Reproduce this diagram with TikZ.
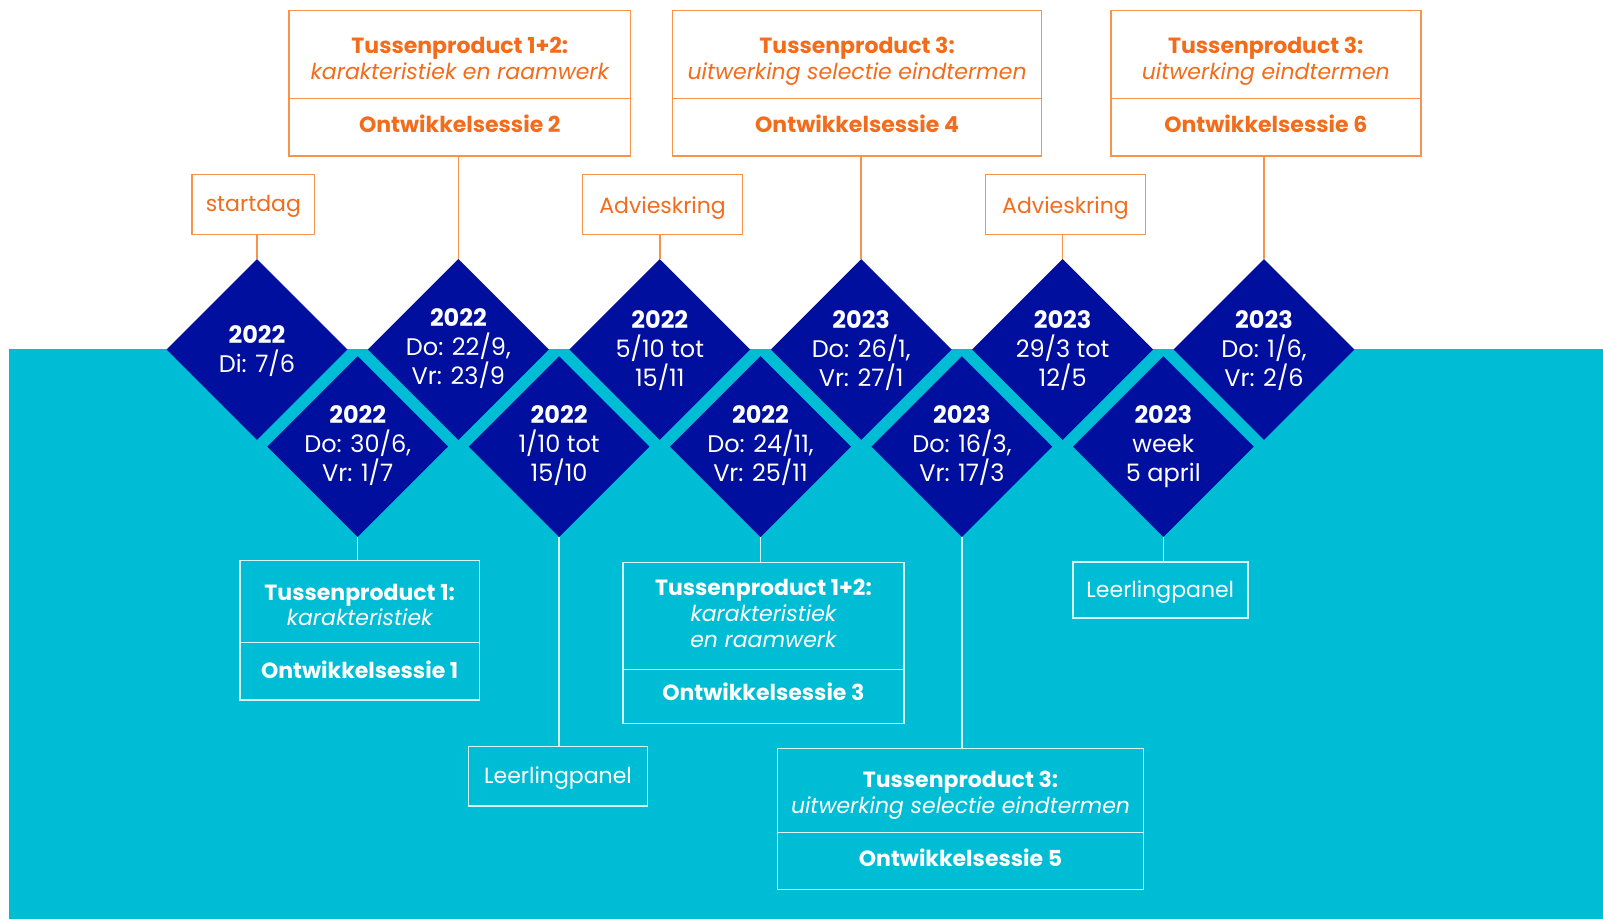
\documentclass[tikz,border=0pt]{standalone}
\usepackage{fontspec}
\setmainfont{Poppins}
\usetikzlibrary{shapes.geometric}
\definecolor{navy}{RGB}{0,15,157}
\definecolor{cyanbg}{RGB}{0,189,214}
\definecolor{otxt}{RGB}{243,108,28}
\definecolor{oline}{RGB}{246,148,78}
\definecolor{wline}{RGB}{215,244,249}
\begin{document}
\begin{tikzpicture}[x=1pt,y=-1pt,
  dia/.style={diamond, fill=navy, inner sep=0pt, minimum width=181pt, minimum height=181pt},
  dbold/.style={text=white, anchor=base, inner sep=0pt, font=\fontsize{24}{29}\selectfont\bfseries},
  dreg/.style={text=white, anchor=base, inner sep=0pt, font=\fontsize{24}{29}\selectfont},
  obox/.style={draw=oline, line width=1.5pt, rectangle, inner sep=0pt},
  wbox/.style={draw=wline, line width=1.5pt, rectangle, inner sep=0pt},
  obold/.style={text=otxt, anchor=base, inner sep=0pt, font=\fontsize{22}{26}\selectfont\bfseries},
  oreg/.style={text=otxt, anchor=base, inner sep=0pt, font=\fontsize{22}{26}\selectfont},
  oital/.style={text=otxt, anchor=base, inner sep=0pt, font=\fontsize{22}{26}\selectfont\itshape},
  wbold/.style={text=white, anchor=base, inner sep=0pt, font=\fontsize{22}{26}\selectfont\bfseries},
  wreg/.style={text=white, anchor=base, inner sep=0pt, font=\fontsize{22}{26}\selectfont},
  wital/.style={text=white, anchor=base, inner sep=0pt, font=\fontsize{22}{26}\selectfont\itshape},
  oconn/.style={draw=oline, line width=1.5pt},
  wconn/.style={draw=wline, line width=1.5pt}]
\useasboundingbox (0,0) rectangle (1603,919);
\fill[white] (0,0) rectangle (1603,919);
\fill[cyanbg] (9,349.4) rectangle (1603,919);

% upper diamonds
\node[dia] (u1) at (257,349.5) {};
\node[dbold] (u1a) at (257,343.3) {2022};
\node[dreg] (u1b) at (257,372.3) {Di: 7/6};

\node[dia] (u2) at (458.4,349.5) {};
\node[dbold] (u2a) at (458.4,326) {2022};
\node[dreg] (u2b) at (458.4,355) {Do: 22/9,};
\node[dreg] (u2c) at (458.4,384) {Vr: 23/9};

\node[dia] (u3) at (659.8,349.5) {};
\node[dbold] (u3a) at (659.8,328.5) {2022};
\node[dreg] (u3b) at (659.8,357.5) {5/10 tot};
\node[dreg] (u3c) at (659.8,386.5) {15/11};

\node[dia] (u4) at (861.2,349.5) {};
\node[dbold] (u4a) at (861.2,328.5) {2023};
\node[dreg] (u4b) at (861.2,357.5) {Do: 26/1,};
\node[dreg] (u4c) at (861.2,386.5) {Vr: 27/1};

\node[dia] (u5) at (1062.6,349.5) {};
\node[dbold] (u5a) at (1062.6,328.5) {2023};
\node[dreg] (u5b) at (1062.6,357.5) {29/3 tot};
\node[dreg] (u5c) at (1062.6,386.5) {12/5};

\node[dia] (u6) at (1264,349.5) {};
\node[dbold] (u6a) at (1264,328.5) {2023};
\node[dreg] (u6b) at (1264,357.5) {Do: 1/6,};
\node[dreg] (u6c) at (1264,386.5) {Vr: 2/6};

% lower diamonds
\node[dia] (l1) at (357.7,446.6) {};
\node[dbold] (l1a) at (357.7,423.5) {2022};
\node[dreg] (l1b) at (357.7,452.5) {Do: 30/6,};
\node[dreg] (l1c) at (357.7,481.5) {Vr: 1/7};

\node[dia] (l2) at (559.1,446.6) {};
\node[dbold] (l2a) at (559.1,423.5) {2022};
\node[dreg] (l2b) at (559.1,452.5) {1/10 tot};
\node[dreg] (l2c) at (559.1,481.5) {15/10};

\node[dia] (l3) at (760.5,446.6) {};
\node[dbold] (l3a) at (760.5,423.5) {2022};
\node[dreg] (l3b) at (760.5,452.5) {Do: 24/11,};
\node[dreg] (l3c) at (760.5,481.5) {Vr: 25/11};

\node[dia] (l4) at (961.9,446.6) {};
\node[dbold] (l4a) at (961.9,423.5) {2023};
\node[dreg] (l4b) at (961.9,452.5) {Do: 16/3,};
\node[dreg] (l4c) at (961.9,481.5) {Vr: 17/3};

\node[dia] (l5) at (1163.3,446.6) {};
\node[dbold] (l5a) at (1163.3,423.5) {2023};
\node[dreg] (l5b) at (1163.3,452.5) {week};
\node[dreg] (l5c) at (1163.3,481.5) {5 april};

% top orange boxes
\node[obox, minimum width=341.6pt, minimum height=88pt] (t2a) at (459.8,54.7) {};
\node[obox, minimum width=341.6pt, minimum height=57.3pt] (t2b) at (459.8,127.35) {};
\node[obold] (t2l1) at (459.8,53.5) {Tussenproduct 1+2:};
\node[oital] (t2l2) at (459.8,79.5) {karakteristiek en raamwerk};
\node[obold] (t2l3) at (459.8,132.5) {Ontwikkelsessie 2};

\node[obox, minimum width=368.8pt, minimum height=88pt] (t4a) at (857.1,54.7) {};
\node[obox, minimum width=368.8pt, minimum height=57.3pt] (t4b) at (857.1,127.35) {};
\node[obold] (t4l1) at (857.1,53.5) {Tussenproduct 3:};
\node[oital] (t4l2) at (857.1,79.5) {uitwerking selectie eindtermen};
\node[obold] (t4l3) at (857.1,132.5) {Ontwikkelsessie 4};

\node[obox, minimum width=310pt, minimum height=88pt] (t6a) at (1265.8,54.7) {};
\node[obox, minimum width=310pt, minimum height=57.3pt] (t6b) at (1265.8,127.35) {};
\node[obold] (t6l1) at (1265.8,53.5) {Tussenproduct 3:};
\node[oital] (t6l2) at (1265.8,79.5) {uitwerking eindtermen};
\node[obold] (t6l3) at (1265.8,132.5) {Ontwikkelsessie 6};

\node[obox, minimum width=122.7pt, minimum height=59.6pt] (s1) at (253.35,204.5) {};
\node[oreg] (s1t) at (253.35,211.7) {startdag};
\node[obox, minimum width=159.8pt, minimum height=59.6pt] (a1) at (662.6,204.5) {};
\node[oreg] (a1t) at (662.6,213.3) {Advieskring};
\node[obox, minimum width=159.9pt, minimum height=59.6pt] (a2) at (1065.45,204.5) {};
\node[oreg] (a2t) at (1065.45,213.3) {Advieskring};

% top connectors
\draw[oconn] (u1.north) -- (u1.north |- s1.south);
\draw[oconn] (u2.north) -- (u2.north |- t2b.south);
\draw[oconn] (u3.north) -- (u3.north |- a1.south);
\draw[oconn] (u4.north) -- (u4.north |- t4b.south);
\draw[oconn] (u5.north) -- (u5.north |- a2.south);
\draw[oconn] (u6.north) -- (u6.north |- t6b.south);

% bottom white boxes
\node[wbox, minimum width=239.3pt, minimum height=82.4pt] (b1a) at (359.65,601.5) {};
\node[wbox, minimum width=239.3pt, minimum height=57.3pt] (b1b) at (359.65,671.35) {};
\node[wbold] (b1l1) at (359.65,600) {Tussenproduct 1:};
\node[wital] (b1l2) at (359.65,625.7) {karakteristiek};
\node[wbold] (b1l3) at (359.65,678.3) {Ontwikkelsessie 1};

\node[wbox, minimum width=179.4pt, minimum height=59.3pt] (p1) at (558,776.35) {};
\node[wreg] (p1t) at (558,783.3) {Leerlingpanel};

\node[wbox, minimum width=281.2pt, minimum height=107pt] (b3a) at (763.4,616.2) {};
\node[wbox, minimum width=281.2pt, minimum height=54pt] (b3b) at (763.4,696.7) {};
\node[wbold] (b3l1) at (763.4,595.7) {Tussenproduct 1+2:};
\node[wital] (b3l2) at (763.4,621.7) {karakteristiek};
\node[wital] (b3l3) at (763.4,647.7) {en raamwerk};
\node[wbold] (b3l4) at (763.4,700) {Ontwikkelsessie 3};

\node[wbox, minimum width=365.6pt, minimum height=83.6pt] (b5a) at (960.5,790.5) {};
\node[wbox, minimum width=365.6pt, minimum height=57pt] (b5b) at (960.5,860.8) {};
\node[wbold] (b5l1) at (960.5,787.3) {Tussenproduct 3:};
\node[wital] (b5l2) at (960.5,813.3) {uitwerking selectie eindtermen};
\node[wbold] (b5l3) at (960.5,866) {Ontwikkelsessie 5};

\node[wbox, minimum width=175pt, minimum height=56pt] (p2) at (1160.3,590) {};
\node[wreg] (p2t) at (1160.3,597.3) {Leerlingpanel};

% bottom connectors
\draw[wconn] (l1.south) -- (l1.south |- b1a.north);
\draw[wconn] (l2.south) -- (l2.south |- p1.north);
\draw[wconn] (l3.south) -- (l3.south |- b3a.north);
\draw[wconn] (l4.south) -- (l4.south |- b5a.north);
\draw[wconn] (l5.south) -- (l5.south |- p2.north);
\end{tikzpicture}
\end{document}
